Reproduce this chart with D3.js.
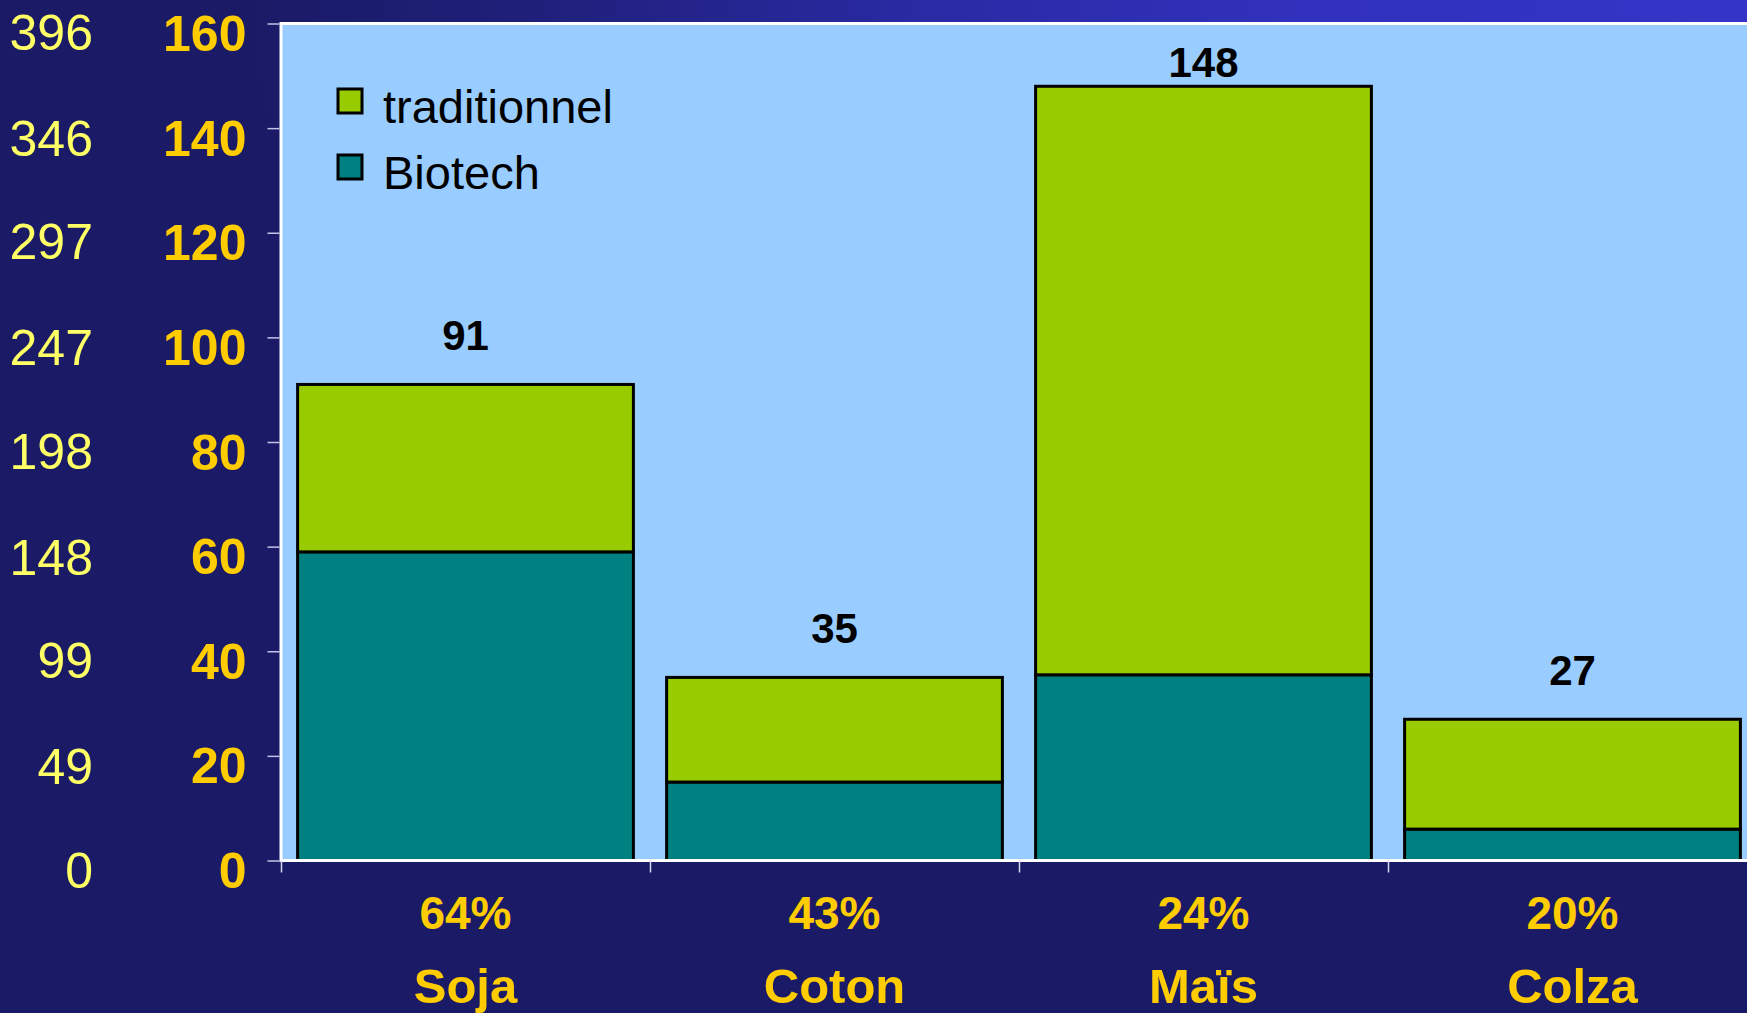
<!DOCTYPE html>
<html>
<head>
<meta charset="utf-8">
<script src="https://cdn.jsdelivr.net/npm/d3@7"></script>
<style>
  html, body { margin: 0; padding: 0; background: #1a1a66; overflow: hidden; }
  svg { display: block; }
  text { font-family: "Liberation Sans", Arial, sans-serif; }
</style>
</head>
<body>
<div id="chart"></div>
<script>
const CROPS = ["Soja", "Coton", "Maïs", "Colza"];
const SHARE = ["64%", "43%", "24%", "20%"];
const BIOTECH = [59, 15, 35.5, 6];
const TRADITIONNEL = [32, 20, 112.5, 21];
const TOTAL = [91, 35, 148, 27];
const Y_TICKS = [0, 20, 40, 60, 80, 100, 120, 140, 160];
const ACRE_TICKS = [0, 49, 99, 148, 198, 247, 297, 346, 396];
const HA_TO_ACRE = 2.471;
const SERIES = ["traditionnel", "Biotech"];

var width = 1747, height = 1013;
var plot = {left: 281, top: 23.5, right: 1757, bottom: 860.5};

var colors = {traditionnel: "#99cc00", Biotech: "#008080"};

var svg = d3.select("#chart").append("svg")
  .attr("width", width)
  .attr("height", height);

// background, brighter toward the top right corner
var defs = svg.append("defs");
var grad = defs.append("radialGradient")
  .attr("id", "bg")
  .attr("gradientUnits", "userSpaceOnUse")
  .attr("cx", width).attr("cy", 0).attr("r", 1500)
  .attr("gradientTransform", "scale(1,0.5)");
grad.append("stop").attr("offset", 0).attr("stop-color", "#3434c8");
grad.append("stop").attr("offset", 0.3).attr("stop-color", "#3131bd");
grad.append("stop").attr("offset", 0.55).attr("stop-color", "#2a2aa4");
grad.append("stop").attr("offset", 0.8).attr("stop-color", "#20207c");
grad.append("stop").attr("offset", 1).attr("stop-color", "#1a1a66");

svg.append("rect")
  .attr("width", width).attr("height", height)
  .attr("fill", "url(#bg)");

// scales
var x = d3.scaleBand()
  .domain(CROPS)
  .range([plot.left, plot.right])
  .paddingInner(0.09)
  .paddingOuter(0.045);

var xEdges = d3.scaleLinear()
  .domain([0, CROPS.length])
  .range([plot.left, plot.right]);

var y = d3.scaleLinear()
  .domain([0, 160])
  .range([plot.bottom, plot.top]);

var y2 = d3.scaleLinear()
  .domain([0, 160 * HA_TO_ACRE])
  .range([plot.bottom, plot.top]);

// plot area
svg.append("rect")
  .attr("x", plot.left)
  .attr("y", plot.top)
  .attr("width", plot.right - plot.left)
  .attr("height", plot.bottom - plot.top)
  .attr("fill", "#99ccff")
  .attr("stroke", "#ffffff")
  .attr("stroke-width", 3);

// stacked bars
var rows = CROPS.map(function(c, i) {
  return {crop: c, Biotech: BIOTECH[i], traditionnel: TRADITIONNEL[i]};
});
var stack = d3.stack().keys(["Biotech", "traditionnel"])(rows);

svg.selectAll(".serie")
  .data(stack)
  .enter().append("g")
  .attr("class", "serie")
  .attr("fill", function(d) { return colors[d.key]; })
  .selectAll("rect")
  .data(function(d) { return d; })
  .enter().append("rect")
  .attr("x", function(d) { return x(d.data.crop); })
  .attr("width", x.bandwidth())
  .attr("y", function(d) { return y(d[1]); })
  .attr("height", function(d) { return y(d[0]) - y(d[1]); })
  .attr("stroke", "#000")
  .attr("stroke-width", 3);

// totals above the bars
svg.selectAll(".total")
  .data(TOTAL)
  .enter().append("text")
  .attr("class", "total")
  .attr("text-anchor", "middle")
  .attr("x", function(d, i) { return x(CROPS[i]) + x.bandwidth() / 2; })
  .attr("y", function(d) { return Math.max(y(d) - 34, y(160) + 53); })
  .attr("font-size", 42)
  .attr("font-weight", "bold")
  .attr("fill", "#000")
  .text(function(d) { return d; });

// bottom line redrawn over the bars
svg.append("line")
  .attr("x1", plot.left).attr("x2", plot.right)
  .attr("y1", plot.bottom).attr("y2", plot.bottom)
  .attr("stroke", "#fff").attr("stroke-width", 3);

// left axis (hectares)
var yAxis = svg.append("g")
  .attr("transform", "translate(" + (plot.left - 1.5) + ",0)")
  .call(d3.axisLeft(y).tickValues(Y_TICKS).tickSize(12).tickPadding(21));
yAxis.select(".domain").remove();
yAxis.selectAll(".tick line").attr("stroke", "#c4c4e8").attr("stroke-width", 1.5);
yAxis.selectAll(".tick text")
  .attr("dy", "0.54em")
  .attr("font-size", 50)
  .attr("font-weight", "bold")
  .attr("font-family", "Liberation Sans, Arial, sans-serif")
  .attr("fill", "#ffcc00");

// second axis (acres)
var acreAxis = svg.append("g")
  .attr("transform", "translate(93,0)")
  .call(d3.axisLeft(y2).tickValues(ACRE_TICKS).tickSize(0).tickPadding(0));
acreAxis.select(".domain").remove();
acreAxis.selectAll(".tick text")
  .attr("dy", "0.54em")
  .attr("font-size", 50)
  .attr("font-family", "Liberation Sans, Arial, sans-serif")
  .attr("fill", "#ffff66");

// bottom ticks between categories
var xAxis = svg.append("g")
  .attr("transform", "translate(0," + plot.bottom + ")")
  .call(d3.axisBottom(xEdges).tickValues(d3.range(CROPS.length + 1)).tickSize(12).tickFormat(""));
xAxis.select(".domain").remove();
xAxis.selectAll(".tick line").attr("stroke", "#d8d8f0").attr("stroke-width", 1.5);

// share of biotech and crop names
svg.selectAll(".share")
  .data(SHARE)
  .enter().append("text")
  .attr("class", "share")
  .attr("text-anchor", "middle")
  .attr("x", function(d, i) { return x(CROPS[i]) + x.bandwidth() / 2; })
  .attr("y", 929)
  .attr("font-size", 46)
  .attr("font-weight", "bold")
  .attr("fill", "#ffcc00")
  .text(function(d) { return d; });

svg.selectAll(".crop")
  .data(CROPS)
  .enter().append("text")
  .attr("class", "crop")
  .attr("text-anchor", "middle")
  .attr("x", function(d) { return x(d) + x.bandwidth() / 2; })
  .attr("y", 1003)
  .attr("font-size", 49)
  .attr("font-weight", "bold")
  .attr("fill", "#ffcc00")
  .text(function(d) { return d; });

// legend
var legend = svg.selectAll(".legend")
  .data(SERIES)
  .enter().append("g")
  .attr("class", "legend")
  .attr("transform", function(d, i) { return "translate(338," + (89 + i * 66) + ")"; });

legend.append("rect")
  .attr("width", 24)
  .attr("height", 24)
  .attr("fill", function(d) { return colors[d]; })
  .attr("stroke", "#000")
  .attr("stroke-width", 3);

legend.append("text")
  .attr("x", 45)
  .attr("y", 34)
  .attr("font-size", 47)
  .attr("fill", "#000")
  .text(function(d) { return d; });
</script>
</body>
</html>
